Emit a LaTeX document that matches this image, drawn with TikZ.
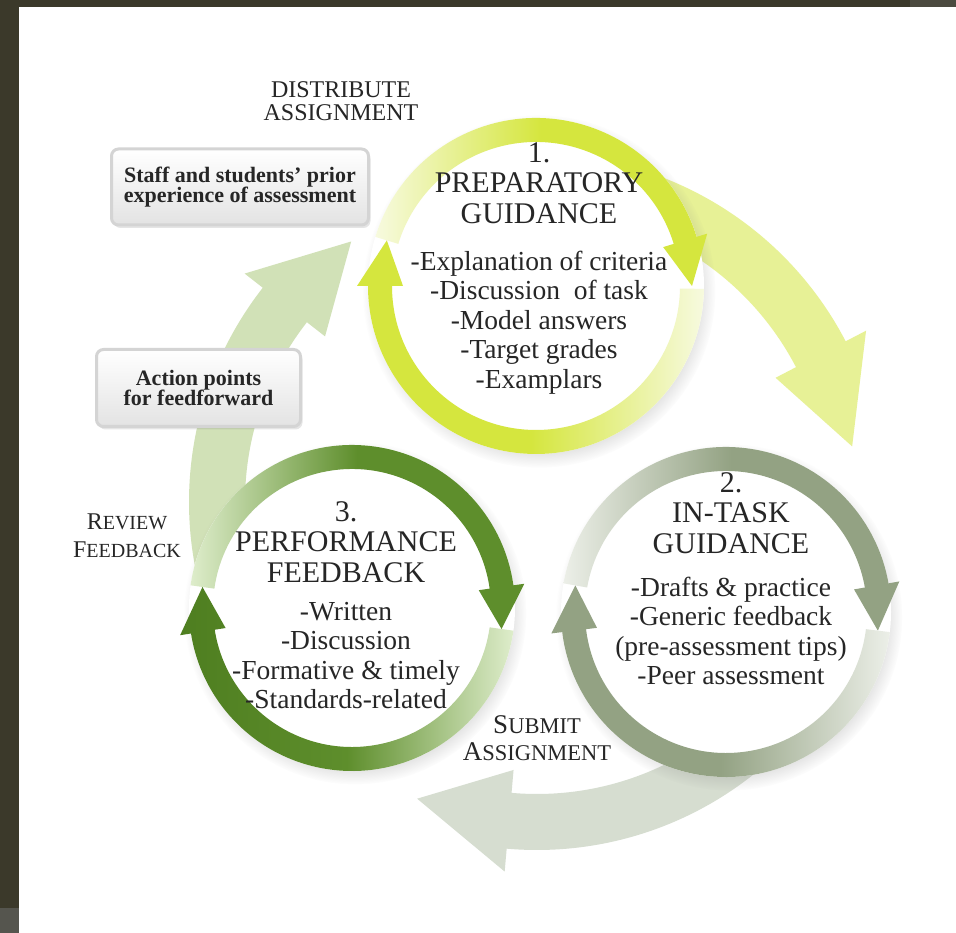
\documentclass[tikz,border=0pt]{standalone}
\usepackage{fontspec}
\setmainfont{Liberation Serif}
\usetikzlibrary{positioning,shadows}

\definecolor{frame}{HTML}{3B392A}
\definecolor{framegrey}{HTML}{55554E}
\definecolor{limeA}{HTML}{D5E63E}
\definecolor{limeA0}{HTML}{F7FADF}
\definecolor{sageB}{HTML}{93A283}
\definecolor{sageB0}{HTML}{ECEFE8}
\definecolor{leafC}{HTML}{5E8E2C}
\definecolor{leafCdark}{HTML}{4E7E20}
\definecolor{leafC0}{HTML}{DEEDCB}
\definecolor{bigA}{HTML}{E7F196}
\definecolor{bigB}{HTML}{D6DDD0}
\definecolor{bigC}{HTML}{D1E1B7}
\definecolor{boxrim}{HTML}{D4D4D4}
\definecolor{boxfill}{HTML}{E3E3E3}
\definecolor{ink}{HTML}{262626}

% curved arrow on a circle:
% options, centre, radius, half shaft, half head, start angle, head base angle, tip angle
\newcommand\bentarrow[8]{%
  \path[#1, shift={(#2)}]
    (#6:{#3+#4}) arc[start angle=#6, end angle=#7, radius={#3+#4}]
    -- (#7:{#3+#5}) -- (#8:#3) -- (#7:{#3-#5}) -- (#7:{#3-#4})
    arc[start angle=#7, end angle=#6, radius={#3-#4}] -- cycle;}
% larger first letter for the step labels
\newcommand\upcap[2]{{\fontsize{#1}{#1}\selectfont #2}}

\begin{document}
\begin{tikzpicture}[x=1pt, y=1pt,
  disc/.style={circle, fill=white, inner sep=0pt,
    circular drop shadow={shadow xshift=3pt, shadow yshift=-5pt, shadow scale=1.05, opacity=.35}},
  head/.style={align=center, inner sep=0pt, text=ink, font=\fontsize{30}{30.5}\selectfont},
  items/.style={align=center, inner sep=0pt, text=ink, font=\fontsize{27.5}{29.5}\selectfont},
  notebox/.style={rounded corners=7pt, draw=boxrim, line width=3pt, top color=white, bottom color=boxfill,
    drop shadow={shadow xshift=2pt, shadow yshift=-3pt, opacity=.2},
    align=center, text=ink, font=\bfseries\fontsize{22}{20.5}\selectfont},
  cue/.style={align=center, inner sep=0pt, text=ink}
]
  % sheet with its dark edge
  \useasboundingbox (0,0) rectangle (956,933);
  \fill[frame] (0,0) rectangle (956,933);
  \fill[white] (19,0) rectangle (956,926);
  \fill[framegrey] (0,0) rectangle (19,25);
  \fill[framegrey!60!frame] (910,926) rectangle (956,933);

  % centres
  \coordinate (hub) at (537,431);
  \coordinate (c1) at (536,647);
  \coordinate (c2) at (726,321);
  \coordinate (c3) at (352,325);

  % outer cycle
  \bentarrow{fill=bigA}{hub}{320}{28}{51}{80}{27.5}{10}
  \bentarrow{fill=bigB}{hub}{320}{28}{51}{-48}{-95}{-112}
  \bentarrow{fill=bigC}{hub}{320}{28}{51}{200}{142}{125.5}

  % the three stages
  \node[disc, minimum size=336pt] (prep) at (c1) {};
  \node[disc, minimum size=330pt] (intask) at (c2) {};
  \node[disc, minimum size=326pt] (perf) at (c3) {};

  % rings
  \bentarrow{left color=limeA0, right color=limeA, middle color=limeA}{prep.center}{156}{12}{23}{163}{17}{0}
  \bentarrow{left color=limeA, right color=limeA0, middle color=limeA}{prep.center}{156}{12}{23}{-1}{-180}{-197}
  \bentarrow{left color=sageB0, right color=sageB, middle color=sageB}{intask.center}{153}{12}{23}{170}{10}{-7}
  \bentarrow{left color=sageB, right color=sageB0, middle color=sageB}{intask.center}{153}{12}{23}{-7}{-173}{-190}
  \bentarrow{left color=leafC0, right color=leafC, middle color=leafC}{perf.center}{151}{12}{23}{172}{8}{-8}
  \bentarrow{left color=leafCdark, right color=leafC0, middle color=leafC}{perf.center}{151}{12}{23}{-8}{-171}{-188}

  % stage texts
  \node[head] (preph) at ([shift={(3,103)}]prep.center) {1.\\PREPARATORY\\GUIDANCE};
  \node[items, below=27pt of preph] (prepl) {-Explanation of criteria\\-Discussion\ \ of task\\-Model answers\\-Target grades\\-Examplars};
  \node[head] (intaskh) at ([shift={(5,99)}]intask.center) {2.\\IN-TASK\\GUIDANCE};
  \node[items, below=23pt of intaskh] (intaskl) {-Drafts \& practice\\-Generic feedback\\(pre-assessment tips)\\-Peer assessment};
  \node[head] (perfh) at ([shift={(-6,66)}]perf.center) {3.\\PERFORMANCE\\FEEDBACK};
  \node[items, below=19pt of perfh] (perfl) {-Written\\-Discussion\\-Formative \& timely\\-Standards-related};

  % side notes
  \node[notebox, minimum width=257pt, minimum height=76pt] (prior) at (240,746) {Staff and students' prior\\experience of assessment};
  \node[notebox, minimum width=204pt, minimum height=77pt] (actions) at (198.5,545) {Action points\\for feedforward};

  % labels on the outer cycle
  \node[cue, font=\fontsize{24}{23}\selectfont] (distribute) at (341,832) {DISTRIBUTE\\ASSIGNMENT};
  \node[cue, font=\fontsize{20}{28}\selectfont] (review) at (127,397) {\upcap{24}{R}EVIEW\\\upcap{24}{F}EEDBACK};
  \node[cue, font=\fontsize{22.5}{27}\selectfont] (submit) at (537,195) {\upcap{27}{S}UBMIT\\\upcap{27}{A}SSIGNMENT};
\end{tikzpicture}
\end{document}
